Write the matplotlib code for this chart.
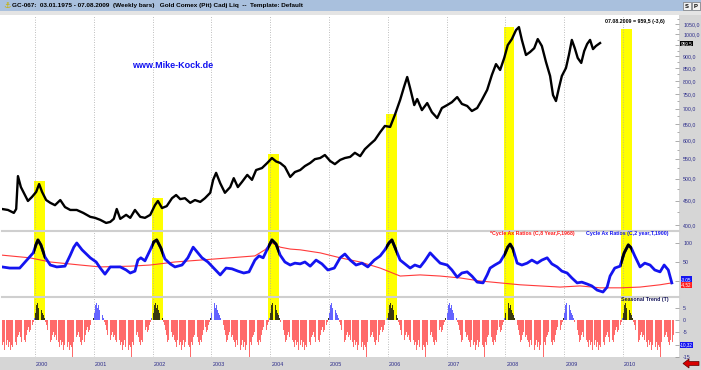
"""Gold Comex weekly chart with 2-year cycle, 8-year cycle and seasonal trend panels."""
import matplotlib

matplotlib.use("Agg")
import matplotlib.pyplot as plt  # noqa: E402
from matplotlib.patches import Rectangle, Polygon  # noqa: E402
from matplotlib.ticker import FixedLocator, FuncFormatter, NullFormatter  # noqa: E402
from matplotlib.transforms import blended_transform_factory  # noqa: E402

W, H, DPI = 701, 370, 100

# ---------------------------------------------------------------------------
# Data (decimal years).
# ---------------------------------------------------------------------------
price_dates = [
    1999.44, 1999.54, 1999.64, 1999.68, 1999.71, 1999.76, 1999.81, 1999.88, 1999.95,
    2000.02, 2000.07, 2000.12, 2000.19, 2000.26, 2000.34, 2000.43, 2000.51, 2000.60,
    2000.71, 2000.82, 2000.94, 2001.02, 2001.11, 2001.21, 2001.28, 2001.34, 2001.39,
    2001.45, 2001.55, 2001.62, 2001.70, 2001.79, 2001.87, 2001.96, 2002.04, 2002.09,
    2002.16, 2002.24, 2002.33, 2002.40, 2002.47, 2002.55, 2002.64, 2002.72, 2002.81,
    2002.89, 2002.98, 2003.03, 2003.08, 2003.15, 2003.23, 2003.32, 2003.38, 2003.45,
    2003.52, 2003.61, 2003.69, 2003.76, 2003.86, 2003.95, 2004.03, 2004.10, 2004.17,
    2004.25, 2004.34, 2004.42, 2004.51, 2004.59, 2004.68, 2004.76, 2004.85, 2004.93,
    2005.02, 2005.10, 2005.19, 2005.27, 2005.36, 2005.44, 2005.53, 2005.61, 2005.70,
    2005.78, 2005.87, 2005.95, 2006.04, 2006.12, 2006.21, 2006.28, 2006.33, 2006.38,
    2006.45, 2006.50, 2006.58, 2006.67, 2006.75, 2006.84, 2006.92, 2007.01, 2007.09,
    2007.18, 2007.26, 2007.35, 2007.43, 2007.52, 2007.60, 2007.69, 2007.77, 2007.84,
    2007.91, 2007.98, 2008.04, 2008.11, 2008.18, 2008.23, 2008.28, 2008.35, 2008.42,
    2008.49, 2008.55, 2008.62, 2008.69, 2008.76, 2008.81, 2008.86, 2008.91, 2008.96,
    2009.03, 2009.08, 2009.13, 2009.18, 2009.23, 2009.29, 2009.34, 2009.39, 2009.44,
    2009.49, 2009.54, 2009.61,
]
price_vals = [
    432, 430, 424, 432, 506, 480, 467, 449, 458,
    469, 487, 469, 451, 445, 440, 451, 436, 430,
    430, 424, 416, 414, 410, 404, 406, 412, 432,
    412, 420, 414, 430, 416, 414, 420, 440, 449,
    434, 438, 455, 462, 453, 455, 445, 451, 447,
    455, 467, 497, 514, 489, 467, 480, 501, 480,
    492, 509, 497, 521, 526, 539, 552, 543, 539,
    529, 504, 516, 521, 531, 539, 549, 552, 560,
    544, 536, 547, 552, 555, 566, 557, 576, 590,
    602, 625, 644, 641, 679, 730, 780, 815, 772,
    712, 733, 695, 719, 688, 669, 702, 712, 722,
    740, 716, 709, 692, 702, 730, 766, 823, 867,
    843, 893, 950, 978, 1021, 1036, 974, 906, 919,
    936, 978, 946, 876, 819, 747, 726, 773, 819,
    851, 906, 974, 936, 893, 872, 923, 955, 974,
    932, 946, 959.5,
]

cycle2_dates = [
    1999.44, 1999.57, 1999.74, 1999.86, 1999.97, 2000.02, 2000.05, 2000.10, 2000.17,
    2000.26, 2000.37, 2000.51, 2000.60, 2000.66, 2000.71, 2000.80, 2000.94, 2001.04,
    2001.11, 2001.19, 2001.28, 2001.45, 2001.55, 2001.62, 2001.70, 2001.75, 2001.80,
    2001.87, 2001.96, 2002.02, 2002.07, 2002.14, 2002.21, 2002.30, 2002.38, 2002.50,
    2002.60, 2002.69, 2002.76, 2002.84, 2002.94, 2003.04, 2003.15, 2003.25, 2003.35,
    2003.45, 2003.55, 2003.64, 2003.74, 2003.81, 2003.88, 2003.96, 2004.03, 2004.10,
    2004.17, 2004.25, 2004.34, 2004.42, 2004.51, 2004.59, 2004.68, 2004.78, 2004.88,
    2004.98, 2005.09, 2005.19, 2005.27, 2005.36, 2005.46, 2005.56, 2005.66, 2005.77,
    2005.87, 2005.95, 2006.02, 2006.07, 2006.12, 2006.21, 2006.29, 2006.38, 2006.46,
    2006.55, 2006.63, 2006.72, 2006.80, 2006.89, 2007.01, 2007.09, 2007.18, 2007.26,
    2007.35, 2007.43, 2007.52, 2007.62, 2007.69, 2007.74, 2007.82, 2007.91, 2007.99,
    2008.04, 2008.08, 2008.13, 2008.20, 2008.28, 2008.37, 2008.45, 2008.54, 2008.62,
    2008.71, 2008.79, 2008.88, 2008.96, 2009.05, 2009.13, 2009.22, 2009.30, 2009.39,
    2009.47, 2009.56, 2009.66, 2009.73, 2009.78, 2009.86, 2009.95, 2010.02, 2010.09,
    2010.14, 2010.20, 2010.29, 2010.37, 2010.46, 2010.54, 2010.63, 2010.70, 2010.77,
    2010.83,
]
cycle2_vals = [
    37, 34, 34, 55, 74, 97, 108, 95, 63,
    42, 37, 39, 68, 89, 100, 82, 61, 50,
    34, 18, 37, 37, 29, 21, 26, 55, 61,
    53, 82, 103, 108, 87, 58, 45, 37, 42,
    61, 89, 76, 61, 50, 34, 16, 34, 32,
    26, 21, 24, 55, 66, 61, 87, 108, 97,
    68, 50, 42, 47, 45, 50, 39, 55, 45,
    29, 34, 61, 71, 55, 42, 47, 37, 55,
    66, 82, 100, 108, 89, 55, 45, 34, 42,
    37, 53, 74, 61, 47, 42, 29, 10, 21,
    24, 13, -3, -5, 16, 34, 42, 50, 71,
    89, 97, 84, 47, 42, 47, 55, 47, 55,
    61, 45, 37, 26, 21, 8, -5, -3, -8,
    -13, -24, -29, -16, 13, 34, 39, 74, 95,
    87, 66, 37, 47, 42, 29, 24, 42, 29,
    -5,
]

cycle8_dates = [
    1999.44, 1999.91, 2000.26, 2000.77, 2001.11, 2001.62, 2001.96, 2002.38, 2002.81,
    2003.32, 2003.74, 2003.91, 2004.03, 2004.17, 2004.34, 2004.51, 2004.85, 2005.19,
    2005.53, 2005.87, 2006.21, 2006.55, 2006.89, 2007.23, 2007.57, 2007.91, 2008.25,
    2008.59, 2008.93, 2009.27, 2009.61, 2009.95, 2010.29, 2010.63, 2010.83,
]
cycle8_vals = [
    68, 61, 50, 42, 37, 39, 42, 50, 55,
    61, 66, 82, 100, 89, 84, 82, 74, 61,
    50, 34, 13, 16, 13, 8, 0, -5, -10,
    -13, -16, -13, -18, -18, -16, -10, -5,
]

# Seasonal trend: one weekly value per week of the year, repeated each year.
seasonal_profile = [
    3, 6, 7, 5, 6, 4, 3, 2, 1, -1,
    -2, -4, -6, -9, -8, -6, -5, -7, -6, -8,
    -9, -11, -8, -10, -9, -12, -10, -8, -11, -9,
    -12, -10, -11, -15, -9, -10, -7, -6, -5, -7,
    -9, -10, -8, -9, -6, -4, -3, -5, -4, -2,
    -1, 1,
]
seasonal_first, seasonal_last = 1999.44, 2010.85

# Highlighted 2-year cycle windows and the price level where each band stops.
band_starts = [1999.99, 2001.99, 2003.97, 2005.97, 2007.97, 2009.97]
band_tops = [494, 455, 563, 682, 1036, 1027]
BAND_W = 0.18

years = list(range(2000, 2011))
# 950, 0 and -10 sit under the last-value boxes, so they get a tick but no label.
price_ticks = list(range(400, 1051, 50))
price_hidden = [950]
cycle_ticks = [0, 50, 100]
cycle_hidden = [0]
seasonal_ticks = [-15, -10, -5, 0, 5]
seasonal_hidden = [-10]

TITLE = ("GC-067:  03.01.1975 - 07.08.2009  (Weekly bars)   "
         "Gold Comex (Pit) Cadj Liq  --  Template: Default")

# ---------------------------------------------------------------------------
# Styling
# ---------------------------------------------------------------------------
FONT = "Liberation Sans"
YELLOW = "#FFFF00"
GRID = "#A8A8A8"
AXIS_TXT = "#2B2B8A"
STRIP = "#D6D6D6"
RED_BAR = "#FF6A6A"
BLUE_BAR = "#6464FF"
DARK_BAR = "#3A3A10"

plt.rcParams["font.family"] = [FONT, "DejaVu Sans"]


def px_box(x0, y0, x1, y1):
    return [x0 / W, 1 - y1 / H, (x1 - x0) / W, (y1 - y0) / H]


def ftext(x, y, s, **kw):
    return fig.text(x / W, 1 - y / H, s, **kw)


def frect(x0, y0, x1, y1, **kw):
    fig.add_artist(Rectangle((x0 / W, 1 - y1 / H), (x1 - x0) / W, (y1 - y0) / H,
                             transform=fig.transFigure, **kw))


def scale_fmt(hidden, fmt):
    return FuncFormatter(lambda v, _: "" if round(v) in hidden else fmt(v))


fig = plt.figure(figsize=(W / DPI, H / DPI), dpi=DPI, facecolor="white")

# Window chrome: title bar, right scale strip, bottom date strip.
frect(0, 0, W, 11, facecolor="#A9C0DD", edgecolor="none", zorder=-5)
frect(0, 11, W, 15, facecolor="#E4E4E4", edgecolor="none", zorder=-5)
frect(679, 15, W, H, facecolor=STRIP, edgecolor="none", zorder=-5)
frect(0, 357, W, H, facecolor=STRIP, edgecolor="none", zorder=-5)

ax_p = fig.add_axes(px_box(2, 15, 679, 230))
ax_c = fig.add_axes(px_box(2, 232, 679, 296), sharex=ax_p)
ax_s = fig.add_axes(px_box(2, 297, 679, 357), sharex=ax_p)

x_left = 2000 - 33 / 58.8
x_right = 2000 + 644 / 58.8

for ax in (ax_p, ax_c, ax_s):
    ax.set_facecolor("white")
    for sp in ax.spines.values():
        sp.set_visible(False)
    ax.tick_params(axis="x", which="both", bottom=False, labelbottom=False)
    ax.yaxis.tick_right()
    ax.tick_params(axis="y", which="both", direction="in", color="#8C8C8C",
                   labelsize=3.8, labelcolor=AXIS_TXT, pad=3, width=0.5)
    ax.tick_params(axis="y", which="major", length=3)
    ax.tick_params(axis="y", which="minor", length=1.5)
    for yr in years:
        ax.axvline(yr, color=GRID, lw=0.6, ls=(0, (1, 2)), zorder=0.5)
ax_p.set_xlim(x_left, x_right)

# --- Price panel (log scale) ---
ax_p.set_yscale("log")
ax_p.set_ylim(390.5, 1098)
ax_p.yaxis.set_major_locator(FixedLocator(price_ticks))
ax_p.yaxis.set_major_formatter(
    scale_fmt(price_hidden, lambda v: f"{v:.1f}".replace(".", ",")))
ax_p.yaxis.set_minor_locator(FixedLocator([v + 25 for v in price_ticks]))
ax_p.yaxis.set_minor_formatter(NullFormatter())
for start, top in zip(band_starts, band_tops):
    ax_p.add_patch(Rectangle((start, 380), BAND_W, top - 380, facecolor=YELLOW,
                             edgecolor="none", zorder=0.2))
ax_p.plot(price_dates, price_vals, color="black", lw=1.7, zorder=3)

# --- Cycle panel ---
ax_c.set_ylim(-39.5, 128.9)
ax_c.yaxis.set_major_locator(FixedLocator(cycle_ticks))
ax_c.yaxis.set_major_formatter(scale_fmt(cycle_hidden, lambda v: f"{v:.0f}"))
for start in band_starts:
    ax_c.axvspan(start, start + BAND_W, color=YELLOW, lw=0, zorder=0.2)
ax_c.plot(cycle8_dates, cycle8_vals, color="#FF3A3A", lw=0.8, zorder=2)
ax_c.plot(cycle2_dates, cycle2_vals, color="#1414F0", lw=2.0, zorder=3)
for start in band_starts:
    line, = ax_c.plot(cycle2_dates, cycle2_vals, color="black", lw=2.0, zorder=4)
    clip = Rectangle((start, -1000), BAND_W, 2000, transform=ax_c.transData)
    line.set_clip_path(clip)

# --- Seasonal trend panel ---
ax_s.set_ylim(-15.05, 9.35)
ax_s.yaxis.set_major_locator(FixedLocator(seasonal_ticks))
ax_s.yaxis.set_major_formatter(scale_fmt(seasonal_hidden, lambda v: f"{v:.0f}"))
for start in band_starts:
    ax_s.add_patch(Rectangle((start, 0), BAND_W, 20, facecolor=YELLOW,
                             edgecolor="none", zorder=0.2))
s_dates, s_vals, s_cols = [], [], []
for yr in range(1999, 2011):
    for wk, val in enumerate(seasonal_profile):
        d = yr + wk / 52
        if seasonal_first <= d <= seasonal_last:
            s_dates.append(d)
            s_vals.append(val)
            if val < 0:
                s_cols.append(RED_BAR)
            elif yr % 2 == 0:
                s_cols.append(DARK_BAR)
            else:
                s_cols.append(BLUE_BAR)
ax_s.bar(s_dates, s_vals, width=0.8 / 52, align="edge", color=s_cols, lw=0, zorder=2)

# Panel separators.
for y in (231, 296.5):
    fig.add_artist(plt.Line2D([2 / W, 679 / W], [1 - y / H, 1 - y / H],
                              transform=fig.transFigure, color="#CFCFCF", lw=1.5))

# Year labels along the bottom strip.
tr = blended_transform_factory(ax_s.transData, fig.transFigure)
for yr in years:
    ax_s.text(yr + 0.02, 1 - 364 / H, str(yr), transform=tr, fontsize=3.9,
              color=AXIS_TXT, ha="left", va="center", clip_on=False)

# Titles and annotations.
ftext(3, 5.5, "\u2693", fontsize=6, color="#C8B000", va="center", ha="left",
      family=["DejaVu Sans"])
ftext(12, 5.5, TITLE, fontsize=4.6, weight="bold", va="center", ha="left")
for i, s in enumerate(["S", "P"]):
    frect(683 + 9 * i, 2, 691 + 9 * i, 10, facecolor="#F2F2F2",
          edgecolor="#7A7A7A", lw=0.5)
    ftext(687 + 9 * i, 6, s, fontsize=4.2, weight="bold", ha="center", va="center")

ftext(173, 66, "www.Mike-Kock.de", fontsize=6.5, weight="bold", color="#1010F0",
      ha="center", va="center")
ftext(665, 22, "07.08.2009 = 959,5 (-3,6)", fontsize=3.8, weight="bold",
      ha="right", va="center")
ftext(575, 234, "*Cycle Ax Ratios (C,8 Year,F,1968)", fontsize=3.8, weight="bold",
      color="#FF2020", ha="right", va="center")
ftext(669, 234, "Cycle Ax Ratios (C,2 year,T,1900)", fontsize=3.8, weight="bold",
      color="#1414F0", ha="right", va="center")
ftext(669, 299.5, "Seasonal Trend (T)", fontsize=3.8, weight="bold",
      color="#14145A", ha="right", va="center")

# Last-value boxes on the right scale.
for y, txt, bg in [(43.5, "959,5", "black"), (279.3, "-3,05", "#1414F0"),
                   (285.2, "-4,52", "#FF2020"), (345, "-10,32", "#1414F0")]:
    ftext(686.5, y, txt, fontsize=3.3, color="white", ha="center", va="center",
          bbox=dict(boxstyle="square,pad=0.1", fc=bg, ec="none"))

# Scroll arrow, bottom right.
arrow = [(683, 363.5), (689, 359), (689, 361.5), (699, 361.5),
         (699, 365.5), (689, 365.5), (689, 368)]
fig.add_artist(Polygon([(x / W, 1 - y / H) for x, y in arrow], closed=True,
                       transform=fig.transFigure, facecolor="#D80000",
                       edgecolor="#5A0000", lw=0.5))

fig.savefig("out.png", dpi=DPI, facecolor="white")
plt.close(fig)
